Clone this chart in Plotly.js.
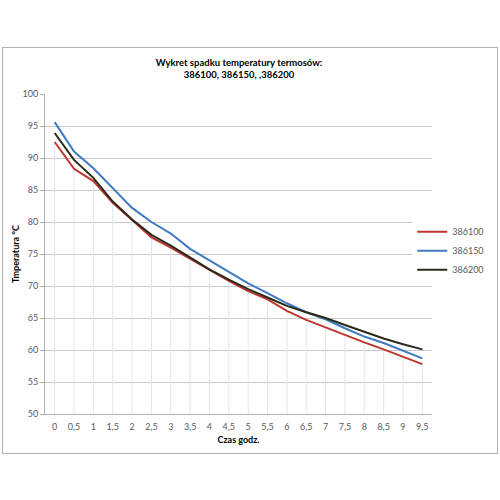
<!DOCTYPE html>
<html>
<head>
<meta charset="utf-8">
<script src="https://cdn.plot.ly/plotly-3.0.1.min.js"></script>
<style>
  body { margin: 0; background: #fff; }
  #myDiv { width: 500px; height: 500px; }
  #frame { position: absolute; left: 2px; top: 47px; width: 494px; height: 405px;
           border: 1px solid #b0b0b0; pointer-events: none; }
</style>
</head>
<body>
<div id="myDiv"></div>
<div id="frame"></div>
<script>
// time in hours, labels use decimal comma
var hours = ['0','0,5','1','1,5','2','2,5','3','3,5','4','4,5','5','5,5','6','6,5','7','7,5','8','8,5','9','9,5'];

var s386100 = [92.5, 88.3, 86.4, 83.0, 80.3, 77.6, 76.0, 74.2, 72.5, 70.8, 69.2, 67.9, 66.1, 64.7, 63.5, 62.4, 61.2, 60.1, 59.0, 57.8];
var s386150 = [95.6, 91.0, 88.4, 85.3, 82.2, 80.0, 78.2, 75.8, 74.0, 72.1, 70.4, 68.9, 67.3, 65.9, 64.8, 63.4, 62.1, 61.1, 59.9, 58.7];
var s386200 = [93.9, 89.7, 86.9, 83.2, 80.4, 78.0, 76.3, 74.4, 72.6, 71.0, 69.5, 68.2, 66.9, 65.9, 65.0, 63.9, 62.8, 61.8, 60.9, 60.1];

var names = ['386100', '386150', '386200'];
var colors = ['#bd3630', '#3f7bc4', '#2b2a1a'];

var yMin = 50, yMax = 100;

// faint drop lines under the curves
var dropX = [], dropY = [];
for (var i = 0; i < hours.length; i++) {
    var low = Math.min(s386100[i], s386150[i], s386200[i]);
    dropX.push(hours[i], hours[i], null);
    dropY.push(yMin, low, null);
}

var data = [
    {
        x: dropX, y: dropY, mode: 'lines', showlegend: false, hoverinfo: 'skip',
        line: { color: '#dde8f5', width: 1 }
    }
];
[s386100, s386150, s386200].forEach(function (s, k) {
    data.push({
        x: hours, y: s, name: names[k], type: 'scatter', mode: 'lines',
        line: { color: colors[k], width: 2 }
    });
});

var tickFont = { family: 'Lato, "Open Sans", sans-serif', size: 9, color: '#595959' };

var layout = {
    width: 500, height: 500,
    margin: { l: 45, r: 67, t: 94, b: 86 },
    paper_bgcolor: '#fff', plot_bgcolor: '#fff',
    font: { family: 'Lato, "Open Sans", sans-serif' },
    title: {
        text: '<b>Wykret spadku temperatury termosów:<br>386100, 386150, ,386200</b>',
        font: { size: 9.5, color: '#000' },
        x: 0.478, xref: 'container', y: 0.868, yref: 'container', yanchor: 'middle'
    },
    xaxis: {
        type: 'category',
        range: [-0.5, hours.length - 0.5],
        tickfont: tickFont,
        showgrid: false,
        showline: true, linecolor: '#b0b0b0', linewidth: 1,
        ticks: 'outside', ticklen: 4, tickcolor: 'rgba(0,0,0,0)', fixedrange: true,
        title: { text: '<b>Czas godz.</b>', font: { size: 9, color: '#000' }, standoff: 5 }
    },
    yaxis: {
        range: [yMin, yMax], dtick: 5,
        tickfont: tickFont,
        showgrid: true, gridcolor: '#c8c8c8', gridwidth: 1,
        zeroline: false,
        showline: true, linecolor: '#b0b0b0', linewidth: 1,
        ticks: 'outside', ticklen: 4, tickcolor: '#b0b0b0',
        title: { text: '<b>Tmperatura °C</b>', font: { size: 9, color: '#000' }, standoff: 1 }
    },
    legend: {
        x: 1.145, xanchor: 'right', y: 0.51, yanchor: 'middle',
        font: { size: 9, color: '#595959' },
        itemwidth: 30, tracegroupgap: 0
    }
};

Plotly.newPlot('myDiv', data, layout, { displayModeBar: false, staticPlot: true });
</script>
</body>
</html>
